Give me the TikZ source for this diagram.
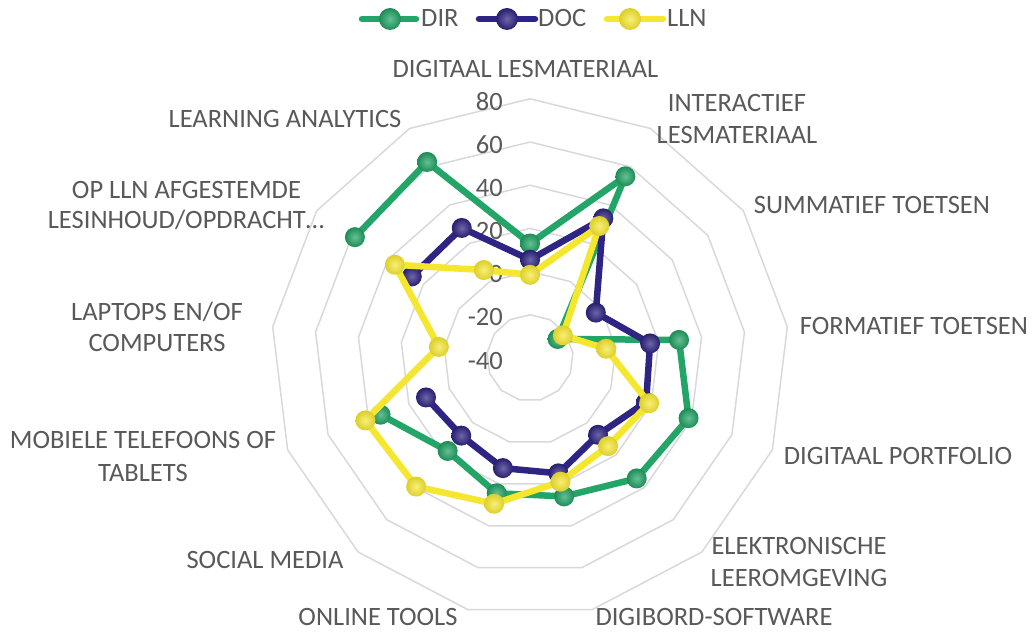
\documentclass[tikz,border=0pt]{standalone}
\usepackage{fontspec}
\setmainfont{Carlito}
\definecolor{dirc}{HTML}{22A566}
\definecolor{docc}{HTML}{2E2483}
\definecolor{llnc}{HTML}{F5E62E}
\definecolor{gridc}{HTML}{D9D9D9}
\definecolor{labc}{HTML}{595959}
\begin{document}
\begin{tikzpicture}[x=1pt,y=-1pt,
  lbl/.style={text=labc, font=\fontsize{26.5}{32}\selectfont, inner sep=0pt, anchor=base},
  tick/.style={text=labc, font=\fontsize{26.5}{32}\selectfont, inner sep=0pt, anchor=east},
  gridline/.style={draw=gridc, line width=1.5pt, line join=round},
  serline/.style={line width=6.5pt, line join=round, line cap=round},
  legline/.style={line width=6.5pt, line cap=round},
  dirball/.style={inner color=dirc!70!white, outer color=dirc!85!black},
  docball/.style={inner color=docc!70!white, outer color=docc!85!black},
  llnball/.style={inner color=llnc!65!white, outer color=llnc!90!black}]
\fill[white] (0,0) rectangle (1032,631);
\path[use as bounding box] (0,0) rectangle (1032,631);
% grid
\foreach \L in {-20,0,20,40,60,80}{
  \pgfmathsetmacro\r{(\L+40)*2.16}
  \draw[gridline] ({530+\r*cos(90)},{358-\r*sin(90)})
    \foreach \i in {1,...,12}{ -- ({530+\r*cos(90-\i*360/13)},{358-\r*sin(90-\i*360/13)}) } -- cycle;
}
% tick labels
\foreach \L [count=\k] in {-40,-20,0,20,40,60,80}{
  \node[tick] (t\k) at (503,{358-(\L+40)*2.16+2.5}) {\L};
}
% data coordinates
\foreach \i/\v in {0/13,1/55,2/-24.5,3/29.5,4/38.5,5/34.5,6/26,7/24.5,8/17.5,9/34,11/58.5,12/62.5}{
  \coordinate (dir\i) at ({530+(\v+40)*2.16*cos(90-\i*360/13)},{358-(\v+40)*2.16*sin(90-\i*360/13)});
}
\foreach \i/\v in {0/5.5,1/33,2/-3,3/16,4/17.5,5/7.5,6/15,7/12.5,8/8,9/11.5,11/26.5,12/28}{
  \coordinate (doc\i) at ({530+(\v+40)*2.16*cos(90-\i*360/13)},{358-(\v+40)*2.16*sin(90-\i*360/13)});
}
\foreach \i/\v in {0/-1.5,1/29,2/-21.5,3/-4.5,4/19,5/14.5,6/19,7/29.5,8/39.5,9/41.5,10/2.5,11/36,12/6}{
  \coordinate (lln\i) at ({530+(\v+40)*2.16*cos(90-\i*360/13)},{358-(\v+40)*2.16*sin(90-\i*360/13)});
}
% DIR
\draw[serline, dirc] (dir11) -- (dir12) -- (dir0) -- (dir1) -- (dir2) -- (dir3) -- (dir4) -- (dir5) -- (dir6) -- (dir7) -- (dir8) -- (dir9);
\foreach \i in {0,...,9,11,12}{ \shade[dirball] (dir\i) circle (10pt); }
% DOC
\draw[serline, docc] (doc11) -- (doc12) -- (doc0) -- (doc1) -- (doc2) -- (doc3) -- (doc4) -- (doc5) -- (doc6) -- (doc7) -- (doc8) -- (doc9);
\foreach \i in {0,...,9,11,12}{ \shade[docball] (doc\i) circle (10pt); }
% LLN
\draw[serline, llnc] (lln0) -- (lln1) -- (lln2) -- (lln3) -- (lln4) -- (lln5) -- (lln6) -- (lln7) -- (lln8) -- (lln9) -- (lln10) -- (lln11) -- (lln12) -- cycle;
\foreach \i in {0,...,12}{ \shade[llnball] (lln\i) circle (10pt); }
% category labels
\node[lbl] (c0) at (525.5,78) {DIGITAAL LESMATERIAAL};
\node[lbl] (c1a) at (737,112) {INTERACTIEF};
\node[lbl] (c1b) at (737,144) {LESMATERIAAL};
\node[lbl] (c2) at (872,213) {SUMMATIEF TOETSEN};
\node[lbl] (c3) at (914,334) {FORMATIEF TOETSEN};
\node[lbl] (c4) at (898,464) {DIGITAAL PORTFOLIO};
\node[lbl] (c5a) at (799,554) {ELEKTRONISCHE};
\node[lbl] (c5b) at (799,586) {LEEROMGEVING};
\node[lbl] (c6) at (714,625) {DIGIBORD-SOFTWARE};
\node[lbl] (c7) at (378,625) {ONLINE TOOLS};
\node[lbl] (c8) at (265,568) {SOCIAL MEDIA};
\node[lbl] (c9a) at (143,448) {MOBIELE TELEFOONS OF};
\node[lbl] (c9b) at (143,481) {TABLETS};
\node[lbl] (c10a) at (157,320) {LAPTOPS EN/OF};
\node[lbl] (c10b) at (157,351) {COMPUTERS};
\node[lbl] (c11a) at (186.5,198) {OP LLN AFGESTEMDE};
\node[lbl] (c11b) at (186,228) {LESINHOUD/OPDRACHT…};
\node[lbl] (c12) at (285,128) {LEARNING ANALYTICS};
% legend
\coordinate (l1a) at (362,19); \coordinate (l1b) at (416,19); \coordinate (l1m) at (390,19);
\coordinate (l2a) at (479,19); \coordinate (l2b) at (535,19); \coordinate (l2m) at (507,19);
\coordinate (l3a) at (607,19); \coordinate (l3b) at (663,19); \coordinate (l3m) at (630,19);
\draw[legline, dirc] (l1a) -- (l1b);
\shade[dirball] (l1m) circle (11pt);
\node[lbl, anchor=base west] (leg1) at (421,27) {DIR};
\draw[legline, docc] (l2a) -- (l2b);
\shade[docball] (l2m) circle (11pt);
\node[lbl, anchor=base west] (leg2) at (538,27) {DOC};
\draw[legline, llnc] (l3a) -- (l3b);
\shade[llnball] (l3m) circle (11pt);
\node[lbl, anchor=base west] (leg3) at (667,27) {LLN};
\end{tikzpicture}
\end{document}
